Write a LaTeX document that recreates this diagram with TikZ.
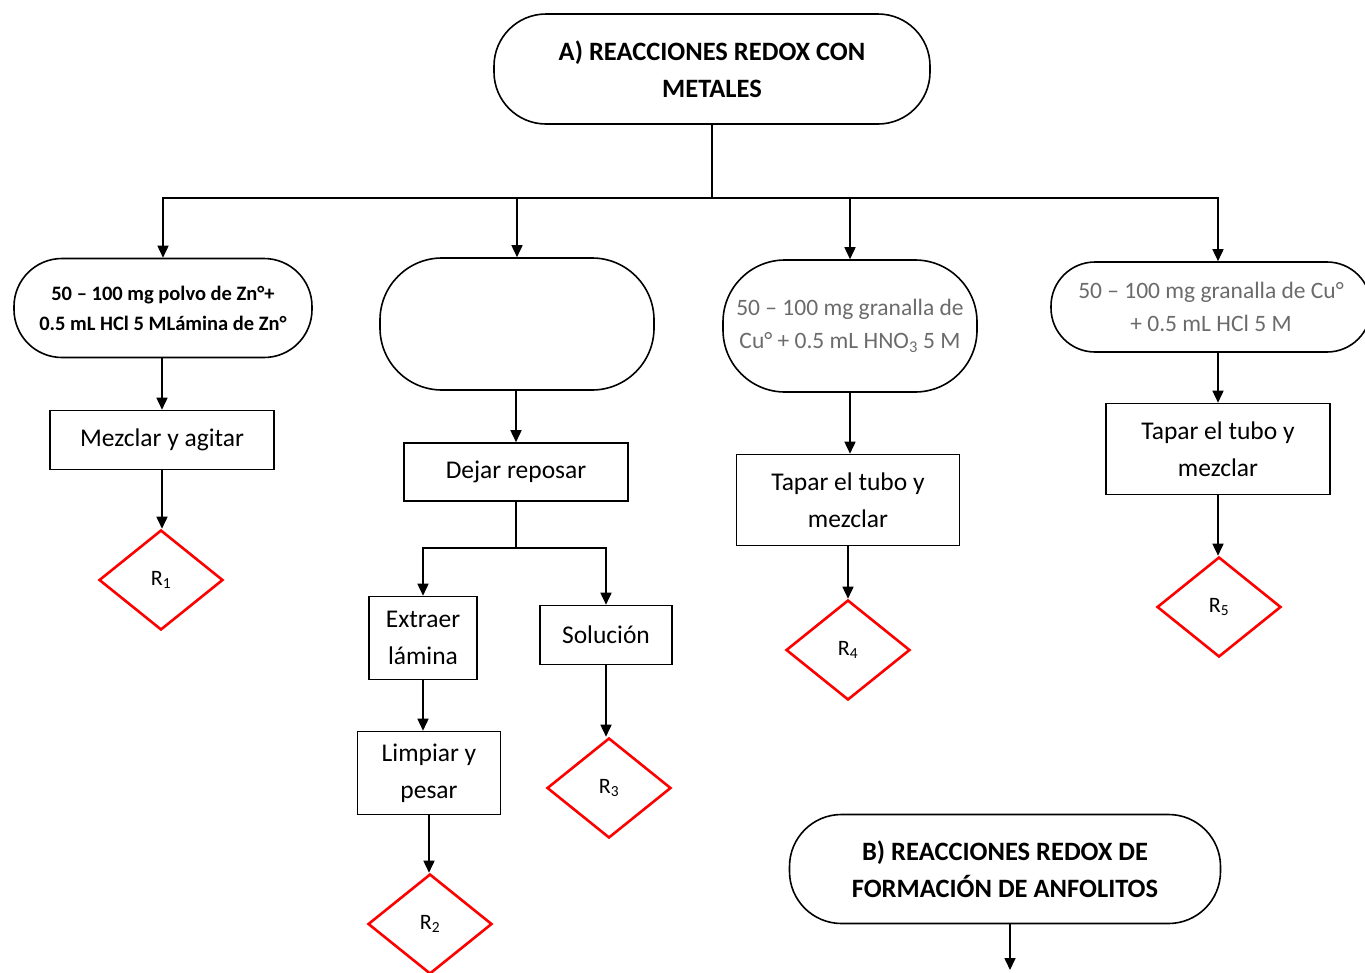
\documentclass[tikz,border=0pt]{standalone}
\usepackage{fontspec}
\setmainfont{Carlito}
\usetikzlibrary{shapes.geometric,arrows.meta}

\begin{document}
\begin{tikzpicture}[x=1pt,y=-1pt,
  line width=1.6pt,
  term/.style={draw, rectangle, align=center, inner sep=0pt},
  stepbox/.style={draw, rectangle, align=center, inner sep=0pt,
    font=\fontsize{25.5}{37}\selectfont},
  result/.style={draw=red, line width=2.6pt, diamond, inner sep=0pt,
    minimum width=124pt, minimum height=100pt, font=\fontsize{22}{25}\selectfont},
  arr/.style={-{Triangle[length=12pt,width=11pt]}},
  titlefont/.style={font=\fontsize{26.5}{37}\selectfont\bfseries},
  grayfont/.style={text=black!58, font=\fontsize{23.5}{33}\selectfont},
]
\useasboundingbox (0,0) rectangle (1365,972);
\clip (0,0) rectangle (1365,972);

% headings
\node[term, titlefont, rounded corners=52pt, minimum width=436pt, minimum height=110pt]
  (A) at (712,69) {A) REACCIONES REDOX CON\\METALES};
\node[term, titlefont, rounded corners=52pt, minimum width=431pt, minimum height=109pt]
  (B) at (1005,869) {B) REACCIONES REDOX DE\\FORMACIÓN DE ANFOLITOS};
\coordinate (Bend) at (1010,970);

% starting materials
\node[term, rounded corners=48pt, minimum width=298pt, minimum height=99pt,
  font=\fontsize{20.5}{30}\selectfont\bfseries]
  (t1) at (163,308) {50 – 100 mg polvo de Zn°+\\0.5 mL HCl 5 MLámina de Zn°};
\node[term, rounded corners=62pt, minimum width=274pt, minimum height=132pt]
  (t2) at (517,324) {};
\node[term, grayfont, rounded corners=62pt, minimum width=254pt, minimum height=132pt]
  (t3) at (850,326) {50 – 100 mg granalla de\\Cu° + 0.5 mL HNO\textsubscript{3} 5 M};
\node[term, grayfont, rounded corners=44pt, minimum width=320pt, minimum height=90pt]
  (t4) at (1211,307) {50 – 100 mg granalla de Cu°\\+ 0.5 mL HCl 5 M};

% procedure steps
\node[stepbox, minimum width=224pt, minimum height=59pt] (s1) at (162,440) {Mezclar y agitar};
\node[stepbox, minimum width=224pt, minimum height=58pt] (s2) at (516,472) {Dejar reposar};
\node[stepbox, minimum width=108pt, minimum height=83pt] (s2a) at (423,638) {Extraer\\lámina};
\node[stepbox, minimum width=143pt, minimum height=83pt] (s2b) at (429,773) {Limpiar y\\pesar};
\node[stepbox, minimum width=132pt, minimum height=59pt] (s2c) at (606,635) {Solución};
\node[stepbox, minimum width=223pt, minimum height=91pt] (s3) at (848,500) {Tapar el tubo y\\mezclar};
\node[stepbox, minimum width=224pt, minimum height=91pt] (s4) at (1218,449) {Tapar el tubo y\\mezclar};

% results
\node[result] (r1) at (161,580) {R\textsubscript{1}};
\node[result] (r2) at (430,924) {R\textsubscript{2}};
\node[result] (r3) at (609,788) {R\textsubscript{3}};
\node[result] (r4) at (848,650) {R\textsubscript{4}};
\node[result] (r5) at (1219,607) {R\textsubscript{5}};

% branching
\coordinate (hub) at (712,198);
\coordinate (split) at (516,548);
\draw (A.south) -- (hub);
\draw[arr] (hub) -| (t1.north);
\draw[arr] (hub) -| (s4.north |- t4.north);
\draw[arr] (t2.north |- hub) -- (t2.north);
\draw[arr] (t3.north |- hub) -- (t3.north);

% column 1
\draw[arr] (s1.north |- t1.south) -- (s1.north);
\draw[arr] (s1.south) -- (s1.south |- r1.north);
% column 2
\draw[arr] (s2.north |- t2.south) -- (s2.north);
\draw (s2.south) -- (split);
\draw[arr] (split) -| (s2a.north);
\draw[arr] (split) -| (s2c.north);
\draw[arr] (s2a.south) -- (s2a.south |- s2b.north);
\draw[arr] (s2b.south) -- (s2b.south |- r2.north);
\draw[arr] (s2c.south) -- (s2c.south |- r3.north);
% column 3
\draw[arr] (t3.south) -- (t3.south |- s3.north);
\draw[arr] (s3.south) -- (s3.south |- r4.north);
% column 4
\draw[arr] (s4.north |- t4.south) -- (s4.north);
\draw[arr] (s4.south) -- (s4.south |- r5.north);
% continuation below section B
\draw[arr] (Bend |- B.south) -- (Bend);
\end{tikzpicture}
\end{document}
